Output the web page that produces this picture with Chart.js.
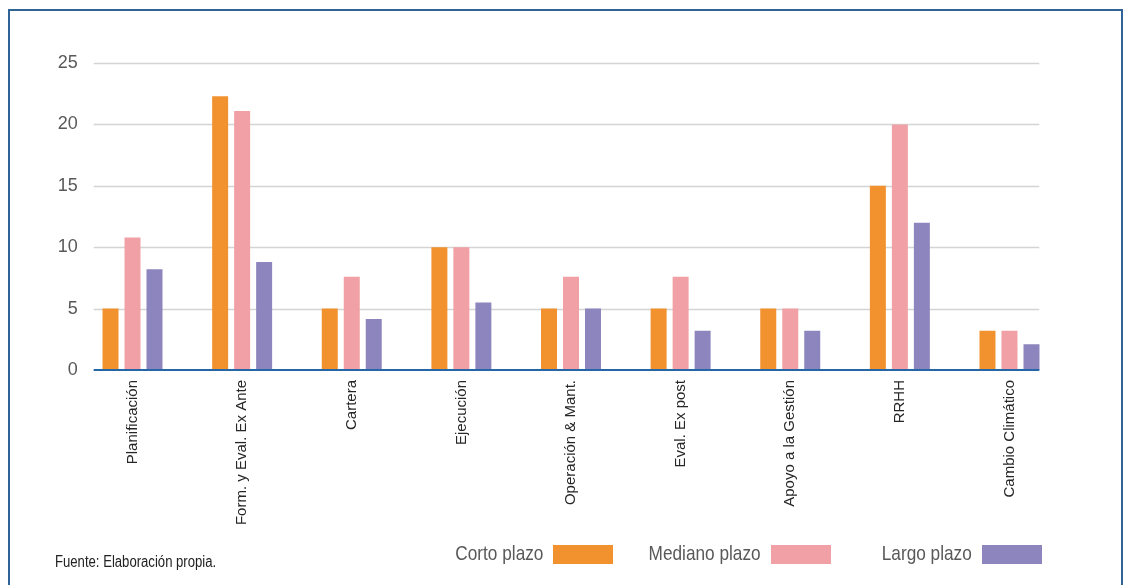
<!DOCTYPE html>
<html>
<head>
<meta charset="utf-8">
<script src="https://cdn.jsdelivr.net/npm/chart.js@4/dist/chart.umd.min.js"></script>
<style>
  html, body { margin: 0; padding: 0; background: #ffffff; }
  body { width: 1125px; height: 585px; position: relative; overflow: hidden; }
  #frame { position: absolute; left: 8px; top: 9px; width: 1115px; height: 600px; border: 2px solid #2f6496; box-sizing: border-box; }
  #wrap { position: absolute; left: 0; top: 0; width: 1125px; height: 585px; }
  #fuente { position: absolute; left: 55px; top: 553px; font-family: "Liberation Sans", Arial, sans-serif; font-size: 16px; color: #222; white-space: nowrap; transform: scaleX(0.82); transform-origin: left center; }
  .lg-text { position: absolute; font-family: "Liberation Sans", Arial, sans-serif; font-size: 21px; color: #595959; white-space: nowrap; transform: scaleX(0.82); transform-origin: right center; }
  .lg-box { position: absolute; width: 60px; height: 19px; }
</style>
</head>
<body>
<div id="frame"></div>
<div id="wrap"><canvas id="c" width="1125" height="585"></canvas></div>
<div id="fuente">Fuente: Elaboración propia.</div>
<div id="legend"></div>
<script>
const categories = ["Planificación", "Form. y Eval. Ex Ante", "Cartera", "Ejecución", "Operación & Mant.", "Eval. Ex post", "Apoyo a la Gestión", "RRHH", "Cambio Climático"];
const seriesNames = ["Corto plazo", "Mediano plazo", "Largo plazo"];
const cortoPlazo  = [5, 22.3, 5, 10, 5, 5, 5, 15, 3.2];
const medianoPlazo = [10.8, 21.1, 7.6, 10, 7.6, 7.6, 5, 20, 3.2];
const largoPlazo  = [8.2, 8.8, 4.15, 5.5, 5, 3.2, 3.2, 12, 2.1];
const yTicks = [0, 5, 10, 15, 20, 25];
const seriesColors = ["#F2922E", "#F1A1A5", "#8D86BE"];

const FONT = '"Liberation Sans", Arial, sans-serif';

const gridPlugin = {
  id: 'customGrid',
  beforeDatasetsDraw(chart) {
    const ctx = chart.ctx, y = chart.scales.y, a = chart.chartArea;
    const left = a.left + 16, right = a.right - 25;
    ctx.save();
    ctx.strokeStyle = '#d4d4d4';
    ctx.lineWidth = 1.5;
    yTicks.forEach(v => {
      if (v === 0) return;
      const py = Math.round(y.getPixelForValue(v)) + 0.5;
      ctx.beginPath(); ctx.moveTo(left, py); ctx.lineTo(right, py); ctx.stroke();
    });
    ctx.restore();
  },
  afterDatasetsDraw(chart) {
    const ctx = chart.ctx, y = chart.scales.y, a = chart.chartArea;
    const left = a.left + 16, right = a.right - 25;
    const py = y.getPixelForValue(0);
    ctx.save();
    ctx.strokeStyle = '#2566a6';
    ctx.lineWidth = 2;
    ctx.beginPath(); ctx.moveTo(left, py); ctx.lineTo(right, py); ctx.stroke();
    ctx.restore();
  }
};

const values = [cortoPlazo, medianoPlazo, largoPlazo];
const chart = new Chart(document.getElementById('c'), {
  type: 'bar',
  data: {
    labels: categories,
    datasets: seriesNames.map((n, i) => ({
      label: n,
      data: values[i],
      backgroundColor: seriesColors[i],
      borderWidth: 0,
      barPercentage: 0.727,
      categoryPercentage: 0.602
    }))
  },
  options: {
    responsive: false,
    animation: false,
    devicePixelRatio: 1,
    layout: { padding: { top: 63, right: 60.7, left: 0, bottom: 0 } },
    plugins: { legend: { display: false }, tooltip: { enabled: false }, title: { display: false } },
    scales: {
      x: {
        offset: true,
        grid: { display: false, drawTicks: false },
        border: { display: false },
        ticks: {
          autoSkip: false, minRotation: 90, maxRotation: 90, padding: 10,
          color: '#262626', font: { family: FONT, size: 15 }
        },
        afterFit(scale) { scale.height = 215; }
      },
      y: {
        min: 0, max: 25,
        grid: { display: false, drawTicks: false },
        border: { display: false },
        afterBuildTicks(scale) { scale.ticks = yTicks.map(v => ({ value: v })); },
        ticks: { padding: 0, color: '#595959', font: { family: FONT, size: 18 } },
        afterFit(scale) { scale.width = 77.7; }
      }
    }
  },
  plugins: [gridPlugin]
});

// Legend built from the dataset definitions
const legendBoxX = [553, 771, 982];
const lg = document.getElementById('legend');
chart.data.datasets.forEach((ds, i) => {
  const box = document.createElement('div');
  box.className = 'lg-box';
  box.style.left = legendBoxX[i] + 'px';
  box.style.top = '545px';
  box.style.background = ds.backgroundColor;
  lg.appendChild(box);
  const t = document.createElement('div');
  t.className = 'lg-text';
  t.textContent = ds.label;
  t.style.right = (1125 - legendBoxX[i] + 10) + 'px';
  t.style.top = '541px';
  lg.appendChild(t);
});
</script>
</body>
</html>
